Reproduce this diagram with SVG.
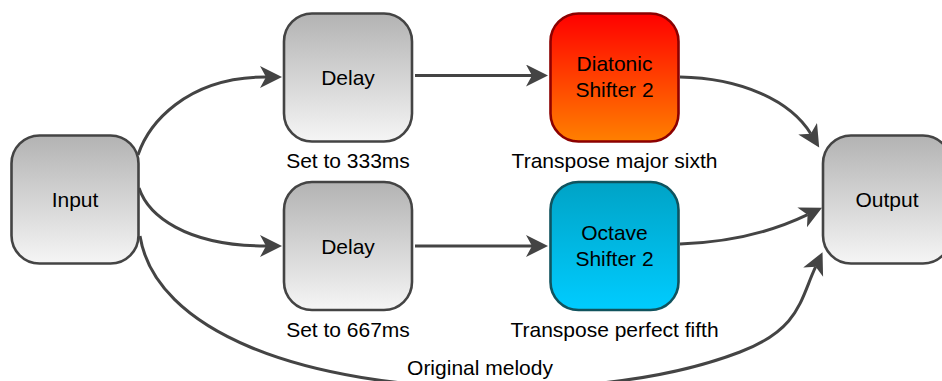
<svg xmlns="http://www.w3.org/2000/svg" width="942" height="381" viewBox="0 0 942 381">
<defs>
<linearGradient id="gGray" x1="0" y1="0" x2="0" y2="1"><stop offset="0" stop-color="#b3b3b3"/><stop offset="1" stop-color="#f5f5f5"/></linearGradient>
<linearGradient id="gRed" x1="0" y1="0" x2="0" y2="1"><stop offset="0" stop-color="#ff0000"/><stop offset="1" stop-color="#ff8000"/></linearGradient>
<linearGradient id="gBlue" x1="0" y1="0" x2="0" y2="1"><stop offset="0" stop-color="#00a3c6"/><stop offset="1" stop-color="#00ccff"/></linearGradient>
<marker id="arr" markerUnits="userSpaceOnUse" markerWidth="24" markerHeight="24" refX="6" refY="11" orient="auto" viewBox="0 0 24 24">
<path d="M0,0 L22,11 L0,22 L6,11 Z" fill="#444444"/>
</marker>
<style>
.box{stroke:#444444;stroke-width:2.6}
.gray{fill:url(#gGray)}
.red{fill:url(#gRed);stroke:#8c0000}
.blue{fill:url(#gBlue);stroke:#10535e}
.lbl{font-family:"Liberation Sans",Arial,Helvetica,sans-serif;font-size:21px;fill:#000;text-anchor:middle}
.edge{fill:none;stroke:#444444;stroke-width:3;marker-end:url(#arr)}
</style>
</defs>
<rect width="942" height="381" fill="#ffffff"/>
<g id="connectors">
<path class="edge" d="M138,155 C148,125 185,77 266,77"/>
<path class="edge" d="M139,188 C148,215 185,246 266,246"/>
<path class="edge" d="M415,75.5 L532,75.5"/>
<path class="edge" d="M415,246 L532,246"/>
<path class="edge" d="M680,77 C740,78 790,100 810.8,133.8"/>
<path class="edge" d="M680,244 C740,242 780,228 807.6,214.7"/>
<path class="edge" d="M140,236 C155,330 300,388 500,388 C600,388 680,375 740,352 S800,300 815.7,266.7"/>
</g>
<g id="input"><rect class="box gray" x="11.5" y="135.5" width="127" height="128" rx="28"/><text class="lbl" x="75" y="207">Input</text></g>
<g id="delay1"><rect class="box gray" x="284" y="13.5" width="128" height="128" rx="28"/><text class="lbl" x="348" y="85">Delay</text><text class="lbl" x="348" y="168">Set to 333ms</text></g>
<g id="delay2"><rect class="box gray" x="284" y="182" width="128" height="128" rx="28"/><text class="lbl" x="348" y="253.5">Delay</text><text class="lbl" x="348" y="336.5">Set to 667ms</text></g>
<g id="diatonic"><rect class="box red" x="550.5" y="13.5" width="128" height="128" rx="28"/><text class="lbl" x="614.5" y="70.5">Diatonic</text><text class="lbl" x="614.5" y="96.5">Shifter 2</text><text class="lbl" x="614.5" y="168">Transpose major sixth</text></g>
<g id="octave"><rect class="box blue" x="550.5" y="182" width="128" height="128" rx="28"/><text class="lbl" x="614.5" y="240">Octave</text><text class="lbl" x="614.5" y="266">Shifter 2</text><text class="lbl" x="614.5" y="336.5">Transpose perfect fifth</text></g>
<g id="output"><rect class="box gray" x="823" y="135.5" width="128" height="128" rx="28"/><text class="lbl" x="887" y="207">Output</text></g>
<g id="label-original"><text class="lbl" x="480" y="375">Original melody</text></g>
</svg>
